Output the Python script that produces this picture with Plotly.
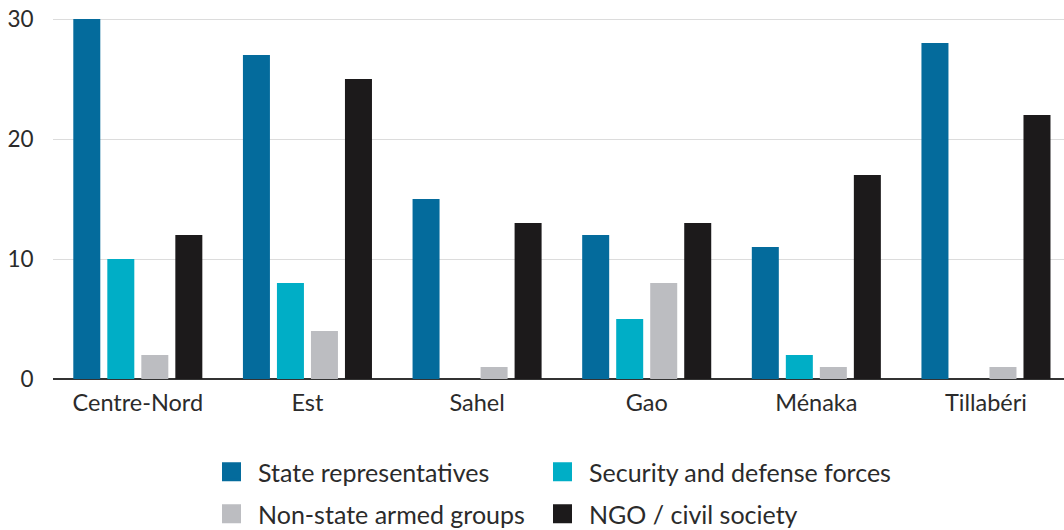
import plotly.graph_objects as go

regions = ["Centre-Nord", "Est", "Sahel", "Gao", "Ménaka", "Tillabéri"]
series_names = ["State representatives", "Security and defense forces",
                "Non-state armed groups", "NGO / civil society"]
state_reps = [30, 27, 15, 12, 11, 28]
security_forces = [10, 8, 0, 5, 2, 0]
non_state_groups = [2, 4, 1, 8, 1, 1]
ngo_civil = [12, 25, 13, 13, 17, 22]
y_ticks = [0, 10, 20, 30]

colors = ["#046b9c", "#00aec6", "#bcbdc1", "#1c1a1b"]
values = [state_reps, security_forces, non_state_groups, ngo_civil]

fig = go.Figure()
for name, vals, col in zip(series_names, values, colors):
    fig.add_trace(go.Bar(x=regions, y=vals, name=name, marker_color=col,
                         marker_line_width=0, showlegend=False))

# legend entries (one legend per entry for exact 2x2 placement)
legend_keys = ["legend", "legend2", "legend3", "legend4"]
for name, col, key in zip(series_names, colors, legend_keys):
    fig.add_trace(go.Scatter(x=[None], y=[None], mode="markers", name=name,
                             marker=dict(symbol="square", size=16, color=col,
                                         line=dict(color=col, width=3)),
                             legend=key, showlegend=True))

H = 530.0

def px_x(px):
    return (px - 53) / 1011.0

def px_yc(py):
    return (H - py) / H

TXT = "#2b2b2b"
leg_common = dict(orientation="h", xanchor="left", yanchor="middle",
                  yref="container", itemwidth=43,
                  bgcolor="rgba(0,0,0,0)", borderwidth=0,
                  font=dict(family="Lato", size=25, color=TXT))

fig.update_layout(
    width=1064, height=530,
    margin=dict(l=53, r=0, t=10, b=151),
    paper_bgcolor="white", plot_bgcolor="white",
    font=dict(family="Lato", size=23, color=TXT),
    barmode="group", bargap=0.198, bargroupgap=0.206,
    xaxis=dict(range=[-0.5, 5.46], showgrid=False, zeroline=False,
               ticks="outside", ticklen=3, tickcolor="rgba(0,0,0,0)",
               tickfont=dict(family="Lato", size=23.5, color=TXT)),
    yaxis=dict(range=[0, 30.75], tickvals=y_ticks, showgrid=True,
               gridcolor="#dcdcdc", gridwidth=1,
               zeroline=True, zerolinecolor="#333333", zerolinewidth=2,
               ticks="outside", ticklen=14, tickcolor="rgba(0,0,0,0)",
               tickfont=dict(family="Lato", size=22.5, color=TXT)),
    legend=dict(x=px_x(205), y=px_yc(472), **leg_common),
    legend2=dict(x=px_x(536), y=px_yc(472), **leg_common),
    legend3=dict(x=px_x(205), y=px_yc(514), **leg_common),
    legend4=dict(x=px_x(536), y=px_yc(514), **leg_common),
)

fig.write_html("out.html",
               config={"displayModeBar": False},
               post_script="document.body.style.margin='0';"
                           "document.body.style.overflow='hidden';")
